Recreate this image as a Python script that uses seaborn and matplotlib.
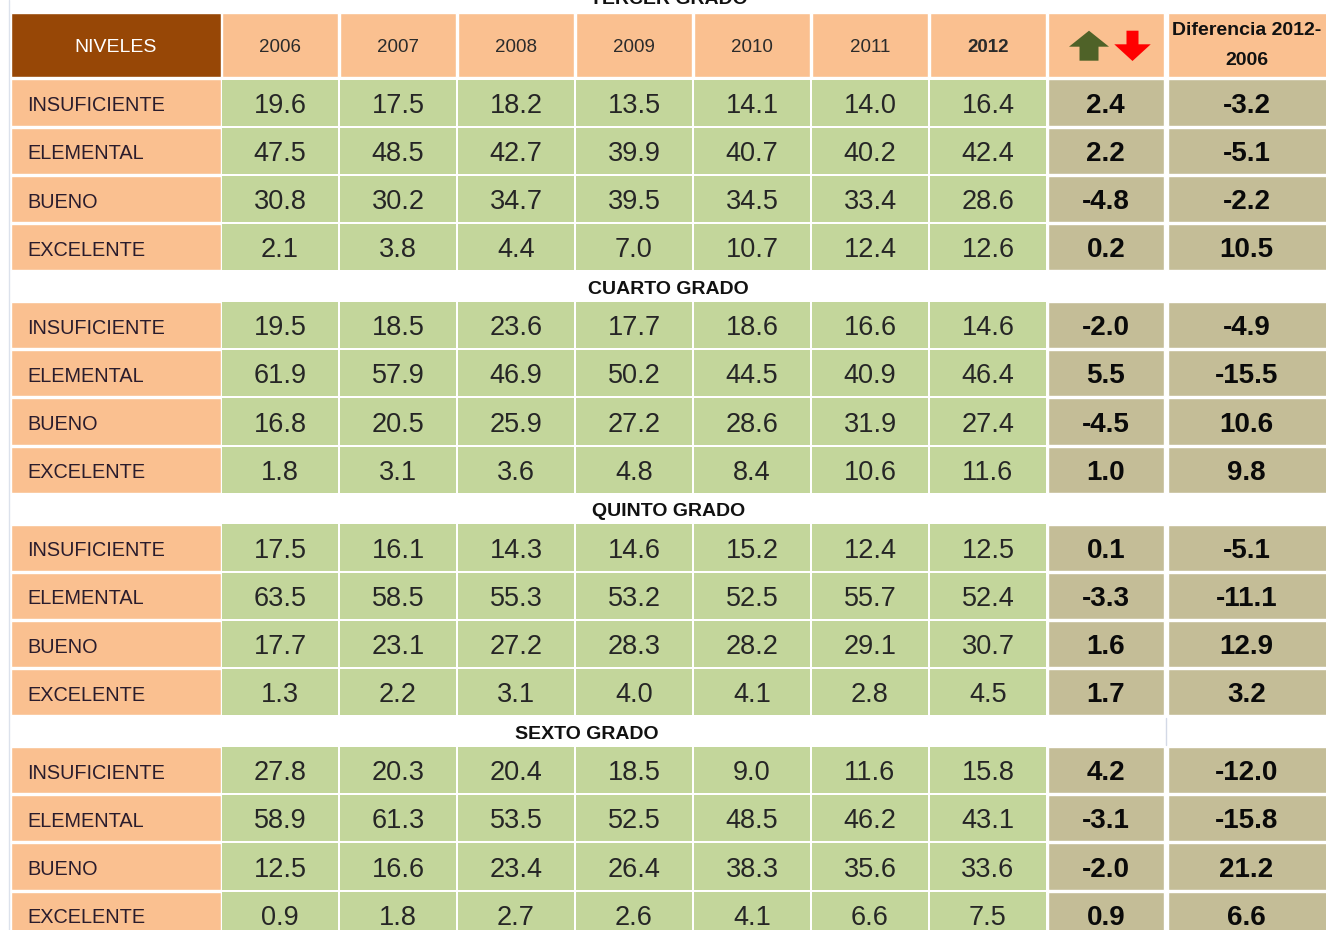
import matplotlib
matplotlib.use("Agg")
import matplotlib.pyplot as plt
import matplotlib.patches as mpatches
from matplotlib.colors import ListedColormap
import numpy as np
import seaborn as sns

sns.set_theme(style="white")
plt.rcParams['font.family'] = ['Liberation Sans', 'DejaVu Sans']

grados = ["TERCER GRADO", "CUARTO GRADO", "QUINTO GRADO", "SEXTO GRADO"]
niveles = ["INSUFICIENTE", "ELEMENTAL", "BUENO", "EXCELENTE"]
anios = ["2006", "2007", "2008", "2009", "2010", "2011", "2012"]

tercer = [[19.6, 17.5, 18.2, 13.5, 14.1, 14.0, 16.4],
          [47.5, 48.5, 42.7, 39.9, 40.7, 40.2, 42.4],
          [30.8, 30.2, 34.7, 39.5, 34.5, 33.4, 28.6],
          [2.1, 3.8, 4.4, 7.0, 10.7, 12.4, 12.6]]
tercer_cambio = [2.4, 2.2, -4.8, 0.2]
tercer_dif = [-3.2, -5.1, -2.2, 10.5]

cuarto = [[19.5, 18.5, 23.6, 17.7, 18.6, 16.6, 14.6],
          [61.9, 57.9, 46.9, 50.2, 44.5, 40.9, 46.4],
          [16.8, 20.5, 25.9, 27.2, 28.6, 31.9, 27.4],
          [1.8, 3.1, 3.6, 4.8, 8.4, 10.6, 11.6]]
cuarto_cambio = [-2.0, 5.5, -4.5, 1.0]
cuarto_dif = [-4.9, -15.5, 10.6, 9.8]

quinto = [[17.5, 16.1, 14.3, 14.6, 15.2, 12.4, 12.5],
          [63.5, 58.5, 55.3, 53.2, 52.5, 55.7, 52.4],
          [17.7, 23.1, 27.2, 28.3, 28.2, 29.1, 30.7],
          [1.3, 2.2, 3.1, 4.0, 4.1, 2.8, 4.5]]
quinto_cambio = [0.1, -3.3, 1.6, 1.7]
quinto_dif = [-5.1, -11.1, 12.9, 3.2]

sexto = [[27.8, 20.3, 20.4, 18.5, 9.0, 11.6, 15.8],
         [58.9, 61.3, 53.5, 52.5, 48.5, 46.2, 43.1],
         [12.5, 16.6, 23.4, 26.4, 38.3, 35.6, 33.6],
         [0.9, 1.8, 2.7, 2.6, 4.1, 6.6, 7.5]]
sexto_cambio = [4.2, -3.1, -2.0, 0.9]
sexto_dif = [-12.0, -15.8, 21.2, 6.6]

tablas = [tercer, cuarto, quinto, sexto]
cambios = [tercer_cambio, cuarto_cambio, quinto_cambio, sexto_cambio]
difs = [tercer_dif, cuarto_dif, quinto_dif, sexto_dif]

# colours
BROWN = "#974706"
PEACH = "#FAC090"
GREEN = "#C3D69B"
TAN = "#C4BD97"

# layout in pixels
W, H = 1326, 930
niv_x0, niv_w = 11, 209.5
year_x0, pitch_x, cell_w = 222, 118, 116
arr_x0, arr_w = 1048, 115.5
dif_x0, dif_w = 1167.5, 160
head_y0, head_h = 13.5, 64
row0, sec_pitch, row_pitch, row_h = 79.5, 222.5, 48.2, 46.2
title_span = [(niv_x0, W), (niv_x0, W), (niv_x0, W), (niv_x0, arr_x0 + arr_w)]
dy = 3  # text sits a little lower than the bbox centre

fig = plt.figure(figsize=(W / 100, H / 100), dpi=100)
ax = fig.add_axes([0, 0, 1, 1])
ax.set_xlim(0, W)
ax.set_ylim(H, 0)
ax.axis("off")

# faint page border on the left
ax.plot([8.5, 8.5], [0, H], color="#dce2ec", lw=1.0)

# header row
hy = head_y0 + head_h / 2 + dy - 1
ax.bar(niv_x0, head_h, width=niv_w, bottom=head_y0, align="edge", color=BROWN)
ax.text(niv_x0 + niv_w / 2, hy, "NIVELES", color="white", fontsize=14,
        ha="center", va="center")
for j, a in enumerate(anios):
    x = year_x0 + j * pitch_x
    ax.bar(x, head_h, width=cell_w, bottom=head_y0, align="edge", color=PEACH)
    ax.text(x + cell_w / 2, hy, a, color="#2b2b2b", fontsize=13.5,
            ha="center", va="center",
            fontweight="bold" if a == "2012" else "normal")
ax.bar(arr_x0, head_h, width=arr_w, bottom=head_y0, align="edge", color=PEACH)
ax.bar(dif_x0, head_h, width=dif_w, bottom=head_y0, align="edge", color=PEACH)
ax.text(dif_x0 + dif_w / 2 - 1, 27.5 + dy, "Diferencia 2012-", fontsize=14,
        fontweight="bold", ha="center", va="center", color="#111111")
ax.text(dif_x0 + dif_w / 2 - 1, 57.5 + dy, "2006", fontsize=14,
        fontweight="bold", ha="center", va="center", color="#111111")

# up / down arrows in the header
ax.add_patch(mpatches.FancyArrow(1089, 60.7, 0, -30, width=19, head_width=40,
                                 head_length=16, length_includes_head=True,
                                 color="#4F6228", lw=0))
ax.add_patch(mpatches.FancyArrow(1132.5, 30.7, 0, 30.3, width=12, head_width=36.5,
                                 head_length=16.7, length_includes_head=True,
                                 color="#FF0000", lw=0))

for s, grado in enumerate(grados):
    top = row0 + s * sec_pitch
    # section title
    if s == 0:
        ty = 0
    else:
        prev_end = row0 + (s - 1) * sec_pitch + 3 * row_pitch + row_h
        ty = (prev_end + top) / 2 + dy
    x_a, x_b = title_span[s]
    ax.text((x_a + x_b) / 2, ty, grado, fontsize=14, fontweight="bold",
            ha="center", va="center", color="#111111")

    for r, nivel in enumerate(niveles):
        y = top + r * row_pitch
        cy = y + row_h / 2 + dy
        ax.bar(niv_x0, row_h, width=niv_w, bottom=y, align="edge", color=PEACH)
        ax.text(27, cy, nivel, fontsize=14.3, ha="left", va="center", color="#2a1c2c")
        ax.bar(arr_x0, row_h, width=arr_w, bottom=y, align="edge", color=TAN)
        ax.text(arr_x0 + arr_w / 2, cy, f"{cambios[s][r]:.1f}", fontsize=20,
                fontweight="bold", ha="center", va="center", color="#0a0a0a")
        ax.bar(dif_x0, row_h, width=dif_w, bottom=y, align="edge", color=TAN)
        ax.text(dif_x0 + dif_w / 2 - 1, cy, f"{difs[s][r]:.1f}", fontsize=20,
                fontweight="bold", ha="center", va="center", color="#0a0a0a")

    # green value block as a seaborn heatmap
    bx0 = year_x0 - 1
    by0 = top - 1
    bh = 4 * row_pitch
    bw = 7 * pitch_x
    hax = fig.add_axes([bx0 / W, 1 - (by0 + bh) / H, bw / W, bh / H])
    sns.heatmap(np.array(tablas[s]), ax=hax, cmap=ListedColormap([GREEN]),
                vmin=0, vmax=100, cbar=False, annot=True, fmt=".1f",
                linewidths=1.44, linecolor="white",
                xticklabels=False, yticklabels=False,
                annot_kws={"fontsize": 19.5, "color": "#262626"})
    hax.patch.set_visible(False)
    for t in hax.texts:
        tx, tyy = t.get_position()
        t.set_position((tx, tyy + dy / row_pitch))

# thin divider in the last title band
ax.plot([1165.5, 1165.5], [718, 745], color="#d3d9e6", lw=1.0)

fig.savefig("out.png", dpi=100)
